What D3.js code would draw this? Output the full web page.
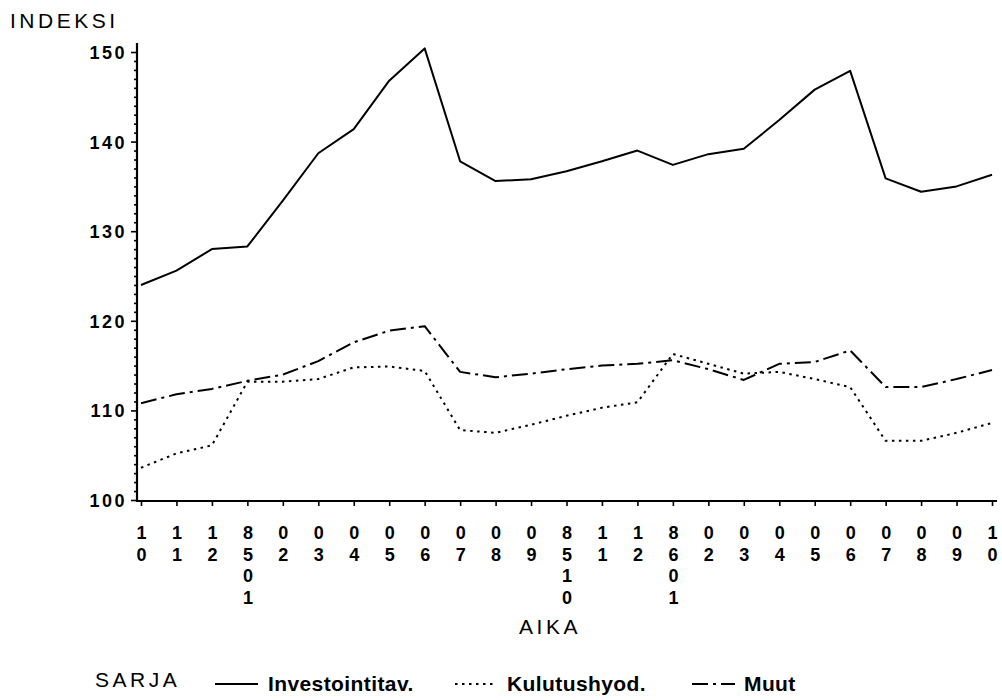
<!DOCTYPE html>
<html>
<head>
<meta charset="utf-8">
<script src="https://cdn.jsdelivr.net/npm/d3@7"></script>
<style>
  body { margin: 0; background: #fff; }
  svg { display: block; }
  text { font-family: "Liberation Sans", Arial, sans-serif; fill: #000; }
  .num { font-weight: bold; font-size: 18px; letter-spacing: 2.5px; }
  .lbl { font-size: 21px; letter-spacing: 3.5px; }
  .leg { font-weight: bold; font-size: 21px; letter-spacing: 0.4px; }
</style>
</head>
<body>
<svg id="chart" width="1002" height="700"></svg>
<script>
// aikajakso : kuukaudet 8410 ... 8610 (pystysuoraan kirjoitetut tunnisteet)
var aika = ["10","11","12","8501","02","03","04","05","06","07","08","09",
            "8510","11","12","8601","02","03","04","05","06","07","08","09","10"];

// sarjat (indeksi)
var investointitav = [124.0,125.6,128.0,128.3,133.4,138.7,141.4,146.8,150.4,137.8,135.6,135.8,
                      136.7,137.8,139.0,137.4,138.6,139.2,142.4,145.8,147.9,135.9,134.4,135.0,136.3];
var kulutushyod    = [103.6,105.2,106.1,113.2,113.2,113.5,114.8,114.9,114.4,107.8,107.5,108.4,
                      109.4,110.3,110.9,116.3,115.2,114.1,114.3,113.5,112.6,106.6,106.6,107.5,108.6];
var muut           = [110.8,111.8,112.4,113.3,114.0,115.5,117.6,118.9,119.4,114.3,113.7,114.1,
                      114.6,115.0,115.2,115.6,114.6,113.4,115.2,115.4,116.7,112.6,112.6,113.5,114.5];

var yTicks = d3.range(100, 151, 1);

var sarjat = [
  {nimi: "Investointitav.", arvot: investointitav, dash: null},
  {nimi: "Kulutushyod.",    arvot: kulutushyod,    dash: "2.5,4.5"},
  {nimi: "Muut",            arvot: muut,           dash: "16,5,3,5"}
];

var svg = d3.select("#chart");

// asteikot
var x = d3.scaleLinear().domain([0, aika.length - 1]).range([141, 992]);
var y = d3.scaleLinear().domain([100, 150]).range([500, 52]);

// y-akseli : pienet jakoviivat joka yksikölle, luvut joka kymmenelle
var yAxis = svg.append("g")
  .attr("transform", "translate(137,0)")
  .call(d3.axisLeft(y)
    .tickValues(yTicks)
    .tickSize(4)
    .tickPadding(6)
    .tickFormat(d => d % 10 === 0 ? d : ""));
yAxis.select(".domain").attr("d", "M0,43V502").attr("stroke-width", 2.2);
yAxis.selectAll(".tick line")
  .attr("x2", d => d % 10 === 0 ? -6 : -3)
  .attr("stroke-width", 1.6);
yAxis.selectAll(".tick text").attr("class", "num").attr("dy", "0.36em");

// x-akseli
var xAxis = svg.append("g")
  .attr("transform", "translate(0,501)")
  .call(d3.axisBottom(x)
    .tickValues(d3.range(aika.length))
    .tickSize(5)
    .tickFormat(""));
xAxis.select(".domain").attr("d", "M137,0H997").attr("stroke-width", 2.2);
xAxis.selectAll(".tick line").attr("stroke-width", 1.6);

// aikatunnisteet numero kerrallaan allekkain
xAxis.selectAll(".tick").each(function(d) {
  var t = d3.select(this).append("text")
    .attr("class", "num")
    .attr("text-anchor", "middle")
    .style("letter-spacing", "0px")
    .attr("y", 38);
  aika[d].split("").forEach(function(c, i) {
    t.append("tspan").attr("x", 0).attr("dy", i === 0 ? 0 : 21.5).text(c);
  });
});

// viivat
var line = d3.line()
  .x((d, i) => x(i))
  .y(d => y(d));

svg.append("g").selectAll("path")
  .data(sarjat)
  .enter()
  .append("path")
  .attr("d", d => line(d.arvot))
  .attr("fill", "none")
  .attr("stroke", "#000")
  .attr("stroke-width", 2)
  .attr("stroke-linejoin", "round")
  .attr("stroke-dasharray", d => d.dash);

// otsikot
svg.append("text").attr("class", "lbl").attr("x", 10).attr("y", 28).text("INDEKSI");
svg.append("text").attr("class", "lbl").attr("x", 550).attr("y", 634)
  .attr("text-anchor", "middle").text("AIKA");

// selite
var legend = svg.append("g");
legend.append("text").attr("class", "lbl").attr("x", 95).attr("y", 687).text("SARJA");

var legPos = [
  {x1: 215, x2: 258, tx: 268},
  {x1: 455, x2: 495, tx: 507},
  {x1: 692, x2: 735, tx: 744}
];
sarjat.forEach(function(s, i) {
  var p = legPos[i];
  legend.append("line")
    .attr("x1", p.x1).attr("x2", p.x2)
    .attr("y1", 684).attr("y2", 684)
    .attr("stroke", "#000")
    .attr("stroke-width", 2)
    .attr("stroke-dasharray", s.dash);
  legend.append("text").attr("class", "leg")
    .attr("x", p.tx).attr("y", 691).text(s.nimi);
});
</script>
</body>
</html>
